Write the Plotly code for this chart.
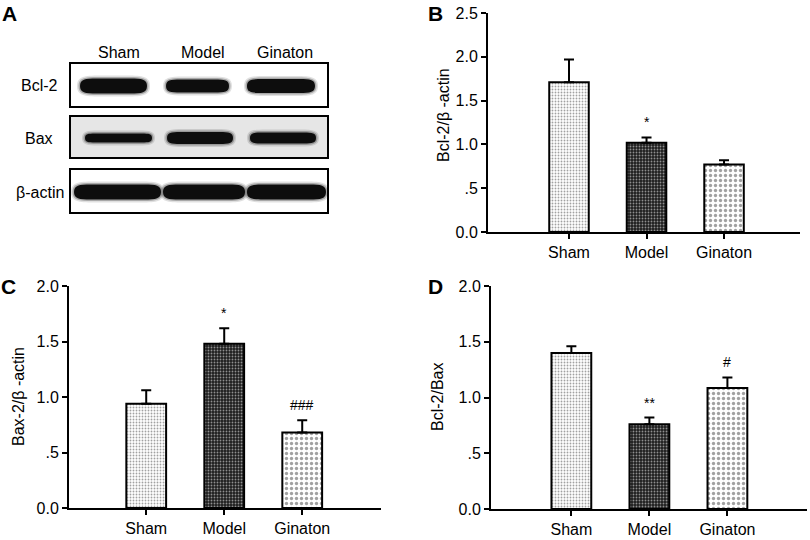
import plotly.graph_objects as go

W, H = 810, 540
FONT = "Liberation Sans, Arial, sans-serif"

# ---------------- data ----------------
groups = ["Sham", "Model", "Ginaton"]

bcl2_actin = [1.71, 1.02, 0.77]
bcl2_actin_err = [0.26, 0.06, 0.05]
bcl2_actin_sig = ["", "*", ""]

bax_actin = [0.94, 1.48, 0.68]
bax_actin_err = [0.12, 0.14, 0.11]
bax_actin_sig = ["", "*", "###"]

bcl2_bax = [1.40, 0.76, 1.085]
bcl2_bax_err = [0.06, 0.06, 0.095]
bcl2_bax_sig = ["", "**", "#"]

blot_rows = ["Bcl-2", "Bax", "β-actin"]

y_tickvals_B = [0, 0.5, 1.0, 1.5, 2.0, 2.5]
y_ticktext_B = ["0.0", ".5", "1.0", "1.5", "2.0", "2.5"]
y_tickvals_CD = [0, 0.5, 1.0, 1.5, 2.0]
y_ticktext_CD = ["0.0", ".5", "1.0", "1.5", "2.0"]


def px(x):
    return x / W


def py(y):
    return 1 - y / H


# pattern styles per group
pat_shape = [".", ".", "."]
pat_fg = ["#9a9a9a", "#5a5a5a", "#4a4a4a"]
pat_bg = ["#ffffff", "#1e1e1e", "#ffffff"]
pat_size = [3, 3, 5]
pat_solid = [0.3, 0.3, 0.35]

fig = go.Figure()

panels = [
    ("x", "y", bcl2_actin, bcl2_actin_err, bcl2_actin_sig),
    ("x2", "y2", bax_actin, bax_actin_err, bax_actin_sig),
    ("x3", "y3", bcl2_bax, bcl2_bax_err, bcl2_bax_sig),
]

for xa, ya, vals, errs, sigs in panels:
    fig.add_trace(go.Bar(
        x=groups, y=vals, xaxis=xa, yaxis=ya, width=0.51,
        marker=dict(
            color=pat_bg,
            line=dict(color="black", width=2),
            pattern=dict(shape=pat_shape, fgcolor=pat_fg, bgcolor=pat_bg,
                         size=pat_size, solidity=pat_solid, fillmode="overlay"),
        ),
        error_y=dict(type="data", array=errs, arrayminus=[0] * len(errs),
                     symmetric=False, color="black", thickness=2, width=5),
        showlegend=False, hoverinfo="x+y",
    ))
    for g, v, e, s in zip(groups, vals, errs, sigs):
        if s:
            fig.add_annotation(x=g, y=v + e, xref=xa, yref=ya, text=s,
                               showarrow=False, yanchor="bottom", yshift=5,
                               font=dict(family=FONT, size=14, color="black"))

axis_common = dict(showline=True, linecolor="black", linewidth=2, automargin=False,
                   showgrid=False, zeroline=False, ticks="outside",
                   tickcolor="black", tickfont=dict(family=FONT, size=16, color="black"))

fig.update_layout(
    width=W, height=H, margin=dict(l=0, r=0, t=0, b=0, autoexpand=False),
    paper_bgcolor="white", plot_bgcolor="white", bargap=0.3,
    xaxis=dict(domain=[px(488), px(800)], range=[-1.045, 2.98], type="category",
               anchor="y", ticklen=5, tickwidth=1.5, **axis_common),
    yaxis=dict(domain=[py(232), py(13)], range=[0, 2.5], anchor="x",
               tickvals=y_tickvals_B, ticktext=y_ticktext_B, ticklen=5, tickwidth=2,
               **axis_common),
    xaxis2=dict(domain=[px(69), px(381)], range=[-0.99, 3.01], type="category",
                anchor="y2", ticklen=5, tickwidth=1.5, **axis_common),
    yaxis2=dict(domain=[py(508), py(286)], range=[0, 2.0], anchor="x2",
                tickvals=y_tickvals_CD, ticktext=y_ticktext_CD, ticklen=5, tickwidth=2,
                **axis_common),
    xaxis3=dict(domain=[px(491), px(807)], range=[-1.03, 3.02], type="category",
                anchor="y3", ticklen=5, tickwidth=1.5, **axis_common),
    yaxis3=dict(domain=[py(509), py(286)], range=[0, 2.0], anchor="x3",
                tickvals=y_tickvals_CD, ticktext=y_ticktext_CD, ticklen=5, tickwidth=2,
                **axis_common),
)

# y-axis titles
ytitles = [("Bcl-2/β -actin", 443, 115), ("Bax-2/β -actin", 18, 397), ("Bcl-2/Bax", 437, 397)]
for t, x, y in ytitles:
    fig.add_annotation(x=px(x), y=py(y), xref="paper", yref="paper", text=t,
                       textangle=-90, showarrow=False, xanchor="center", yanchor="middle",
                       font=dict(family=FONT, size=16, color="black"))

# panel letters
for t, x, y in [("A", 9, 14), ("B", 435, 14), ("C", 8, 286), ("D", 435, 286)]:
    fig.add_annotation(x=px(x), y=py(y), xref="paper", yref="paper",
                       text="<b>%s</b>" % t, showarrow=False,
                       xanchor="center", yanchor="middle",
                       font=dict(family=FONT, size=21, color="black"))

# ---------------- panel A: western blot ----------------
lane_x = [119, 203, 285]
for g, x in zip(groups, lane_x):
    fig.add_annotation(x=px(x), y=py(52), xref="paper", yref="paper", text=g,
                       showarrow=False, xanchor="center", yanchor="middle",
                       font=dict(family=FONT, size=16, color="black"))

boxes = [(63, 107, "white"), (116, 158, "#e6e6e6"), (169, 213, "white")]
row_label_pos = [(60, 86), (55, 138), (66, 192)]
for (y0, y1, fill), lab, (lx, ly) in zip(boxes, blot_rows, row_label_pos):
    fig.add_shape(type="rect", xref="paper", yref="paper",
                  x0=px(70), x1=px(328), y0=py(y1), y1=py(y0),
                  line=dict(color="black", width=2), fillcolor=fill, layer="below")
    fig.add_annotation(x=px(lx), y=py(ly), xref="paper", yref="paper", text=lab,
                       showarrow=False, xanchor="right", yanchor="middle",
                       font=dict(family=FONT, size=16, color="black"))


def band_path(x0, x1, yc, h):
    r = min(h * 1.1, (x1 - x0) / 3)
    hh = h / 2
    pts = [
        ("M", [(x0, yc)]),
        ("C", [(x0, yc - hh * 0.9), (x0 + r * 0.3, yc - hh), (x0 + r, yc - hh)]),
        ("L", [(x1 - r, yc - hh)]),
        ("C", [(x1 - r * 0.3, yc - hh), (x1, yc - hh * 0.9), (x1, yc)]),
        ("C", [(x1, yc + hh * 0.9), (x1 - r * 0.3, yc + hh), (x1 - r, yc + hh)]),
        ("L", [(x0 + r, yc + hh)]),
        ("C", [(x0 + r * 0.3, yc + hh), (x0, yc + hh * 0.9), (x0, yc)]),
    ]
    s = ""
    for cmd, ps in pts:
        s += cmd + " " + " ".join("%.5f,%.5f" % (px(a), py(b)) for a, b in ps) + " "
    return s + "Z"


bands = [
    # Bcl-2
    (80, 147, 86, 15), (166, 229, 86, 13), (247, 315, 86, 14),
    # Bax
    (85, 152, 138, 9), (167, 233, 138, 12), (250, 316, 138, 11),
    # beta-actin
    (74, 161, 192, 15), (163, 245, 192, 15), (247, 326, 192, 15),
]
for x0, x1, yc, h in bands:
    for grow, alpha in [(3, 0.12), (1.5, 0.25)]:
        fig.add_shape(type="path", xref="paper", yref="paper",
                      path=band_path(x0 - grow, x1 + grow, yc, h + 2 * grow),
                      fillcolor="rgba(0,0,0,%.2f)" % alpha, line=dict(width=0))
    fig.add_shape(type="path", xref="paper", yref="paper",
                  path=band_path(x0, x1, yc, h),
                  fillcolor="#0d0d0d", line=dict(width=0))

fig.write_html("out.html", config={"displayModeBar": False},
               post_script="document.body.style.margin='0px';document.body.style.overflow='hidden';")
